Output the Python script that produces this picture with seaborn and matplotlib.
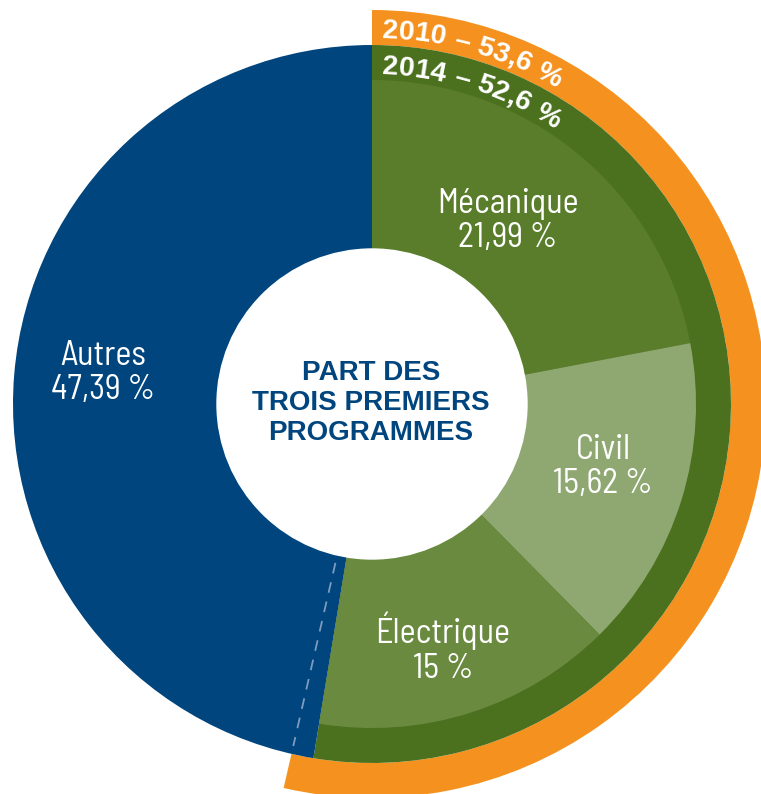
import numpy as np
import matplotlib
matplotlib.use("Agg")
import matplotlib.pyplot as plt
from matplotlib.font_manager import FontProperties
import seaborn as sns

# Data
programmes = ["Mécanique", "Civil", "Électrique", "Autres"]
parts_2014 = [21.99, 15.62, 15.00, 47.39]
labels_pct = ["21,99 %", "15,62 %", "15 %", "47,39 %"]
part_trois_2010 = 53.6
part_trois_2014 = 52.6
ring_labels = ["2010 – 53,6 %", "2014 – 52,6 %"]
center_title = "PART DES\nTROIS PREMIERS\nPROGRAMMES"

# Colours
blue = "#00457d"
orange = "#f5921f"
dark_green = "#4b711e"
slice_colors = ["#5a7d2b", "#8fa872", "#6a8a40", "none"]

sns.set_theme(style="white")
plt.rcParams["font.family"] = ["Liberation Sans", "DejaVu Sans"]

fig = plt.figure(figsize=(7.61, 7.94), dpi=100)
ax = fig.add_axes([0, 0, 1, 1])

# geometry in pixel-like units
cx, cy = 372, -404
r_orange, r_main, r_slices, r_hole = 394, 359, 324, 155
ring_w = 35

# outer orange ring (2010)
ax.pie([part_trois_2010, 100 - part_trois_2010], radius=r_orange, center=(cx, cy),
       startangle=90, counterclock=False, colors=[orange, "none"],
       wedgeprops=dict(width=ring_w, linewidth=0))

# dark green ring (2014) + Autres
trois = sum(parts_2014[:3])
ax.pie([trois, parts_2014[3]], radius=r_main, center=(cx, cy),
       startangle=90, counterclock=False, colors=[dark_green, blue],
       wedgeprops=dict(linewidth=0))

# programme slices
ax.pie(parts_2014, radius=r_slices, center=(cx, cy),
       startangle=90, counterclock=False, colors=slice_colors,
       wedgeprops=dict(linewidth=0))

# white hole
ax.add_patch(plt.Circle((cx, cy), r_hole, color="white", zorder=5))

# dashed line showing 2010 boundary inside Autres
theta = np.radians(part_trois_2010 / 100 * 360)
rr = np.array([r_hole + 8, r_main - 8])
ax.plot(cx + rr * np.sin(theta), cy + rr * np.cos(theta), color="#7d9cc0",
        lw=1.3, ls=(0, (6, 5)), zorder=6)

ax.set_xlim(0, 761)
ax.set_ylim(-794, 0)
ax.set_aspect("equal")
ax.axis("off")

# slice labels
label_font = ["Barlow Semi Condensed", "Liberation Sans", "DejaVu Sans"]
label_pos = [(508, -221), (603, -467), (443, -648), (103, -373)]
for name, pct, (x, y) in zip(programmes, labels_pct, label_pos):
    ax.text(x, y, name + "\n" + pct, ha="center", va="center", color="white",
            fontsize=24.5, family=label_font, fontweight=400, linespacing=1.1, zorder=7)

# center title
ax.text(371, -403, center_title, ha="center", va="center", color=blue,
        fontsize=20, fontweight="bold", linespacing=1.2, zorder=7)

# curved ring labels
fig.canvas.draw()
renderer = fig.canvas.get_renderer()
fp = FontProperties(family=["Liberation Sans", "DejaVu Sans"], weight="bold", size=20.5)


def text_w(s):
    if not s:
        return 0.0
    w, h, d = renderer.get_text_width_height_descent(s, fp, ismath=False)
    return w


def curved_text(s, radius, start_px):
    for i, ch in enumerate(s):
        mid = (text_w(s[:i]) + text_w(s[:i + 1])) / 2 + start_px
        t = mid / radius
        x = cx + radius * np.sin(t)
        y = cy + radius * np.cos(t)
        ax.text(x, y, ch, fontproperties=fp, color="white", ha="center",
                va="baseline", rotation=-np.degrees(t), rotation_mode="anchor",
                zorder=8)


curved_text(ring_labels[0], 366, 10)
curved_text(ring_labels[1], 330, 10)

fig.savefig("out.png", dpi=100)
